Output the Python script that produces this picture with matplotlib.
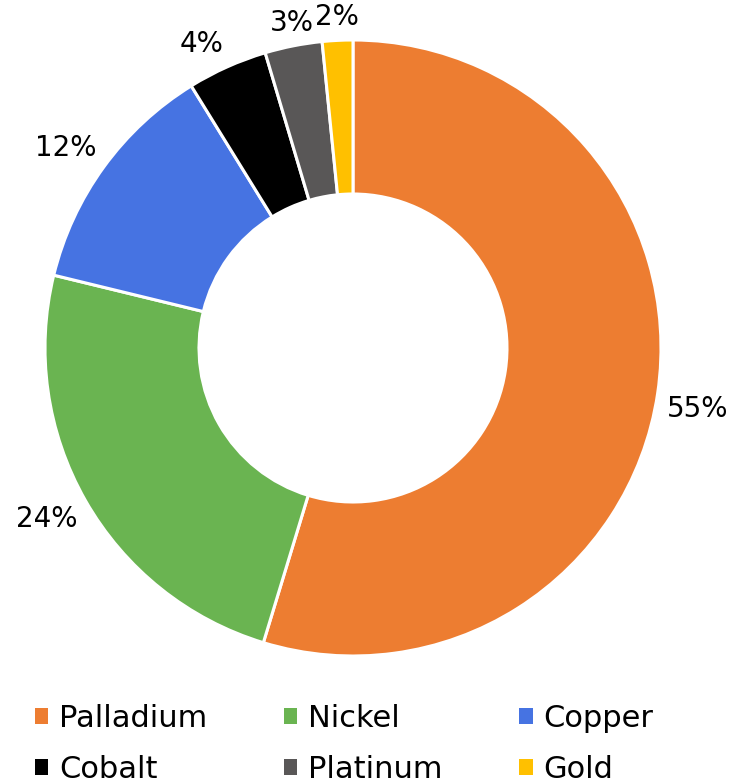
import numpy as np
import matplotlib.pyplot as plt
from matplotlib.patches import Patch

# Data (shares in %)
metals = ['Palladium', 'Nickel', 'Copper', 'Cobalt', 'Platinum', 'Gold']
shares = [54.7, 24.1, 12.4, 4.2, 3.0, 1.6]
colors = ['#ED7D31', '#6AB451', '#4673E2', '#000000', '#595757', '#FFC000']

plt.rcParams['font.family'] = ['DejaVu Sans']

fig = plt.figure(figsize=(7.41, 7.84), dpi=100)
ax = fig.add_axes([0, 0, 1, 1])

wedges, texts, autotexts = ax.pie(
    shares, colors=colors, startangle=90, counterclock=False,
    center=(353, 436), radius=308,
    autopct=lambda p: f'{p:.0f}%', pctdistance=1.03,
    wedgeprops=dict(width=154, edgecolor='white', linewidth=2.2),
    textprops=dict(fontsize=20, color='#000000'),
)

# "outside end" labels: anchor the text on the side facing the ring
for w, t in zip(wedges, autotexts):
    a = np.deg2rad((w.theta1 + w.theta2) / 2)
    c, s = np.cos(a), np.sin(a)
    t.set_ha('left' if c > 0.3 else 'right' if c < -0.3 else 'center')
    t.set_va('bottom' if s > 0.1 else 'top' if s < -0.1 else 'center')

ax.set_xlim(0, 741)
ax.set_ylim(0, 784)
ax.set_aspect('equal')
ax.axis('off')

# legend in row order (matplotlib fills columns first)
order = [0, 3, 1, 4, 2, 5]
handles = [Patch(facecolor=colors[i], edgecolor='none') for i in order]
labels = [metals[i] for i in order]
fig.legend(handles, labels, ncol=3, loc='upper left',
           bbox_to_anchor=(0.026, 0.122), frameon=False, fontsize=22,
           handlelength=0.45, handleheight=0.45, handletextpad=0.35,
           columnspacing=2.5, labelspacing=0.72, borderpad=0)

fig.savefig('out.png', dpi=100)
